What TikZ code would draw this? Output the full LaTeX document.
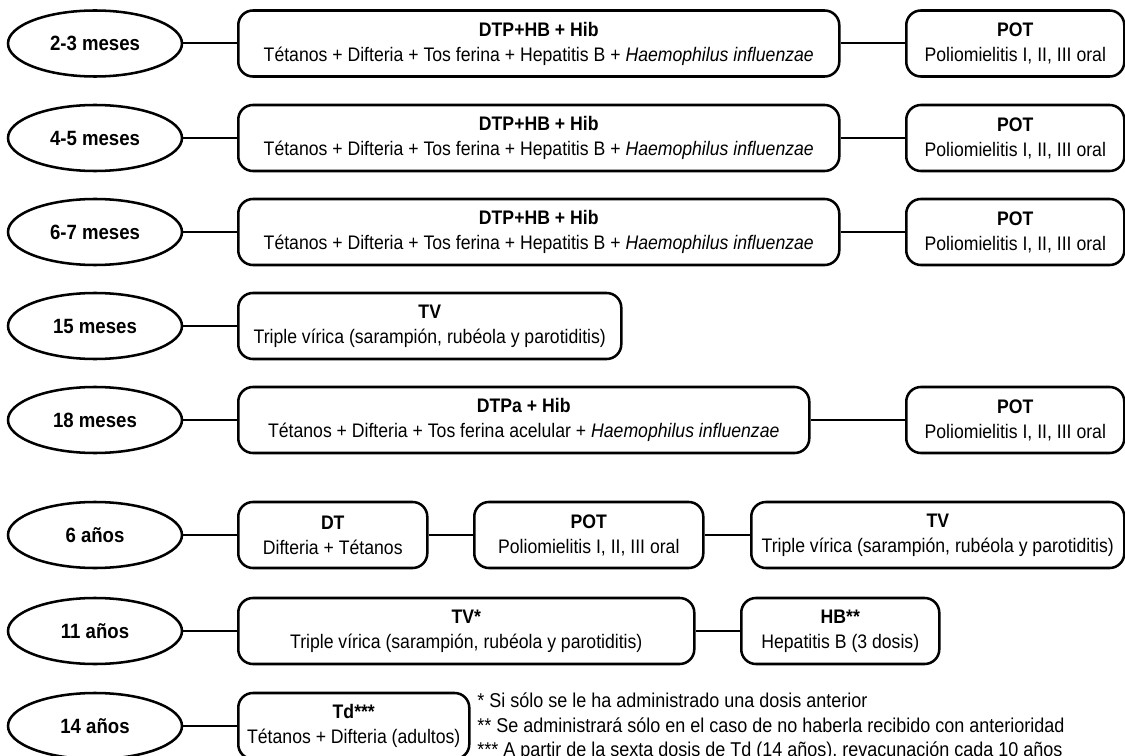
\documentclass[tikz,border=0pt]{standalone}
\usepackage{fontspec}
\setmainfont[FakeStretch=0.9]{Liberation Sans}
\usetikzlibrary{shapes.geometric}

\tikzset{
  age/.style={ellipse, draw, line width=1.9pt, minimum width=130.5pt,
    minimum height=49.5pt, inner sep=0pt,
    font=\fontsize{15.5}{18}\selectfont\bfseries},
  vac/.style={rectangle, rounded corners=11pt, draw, line width=1.9pt,
    minimum height=49.5pt, inner sep=2pt, align=center, anchor=west,
    font=\fontsize{14.7}{18.75}\selectfont},
  link/.style={line width=1.5pt},
  note/.style={anchor=west, align=left, inner sep=0pt,
    font=\fontsize{15}{18.4}\selectfont}
}

\begin{document}
\begin{tikzpicture}[x=0.75pt, y=-0.75pt]

  % Page frame
  \useasboundingbox (0,0) rectangle (1125,756);

  % 2-3 meses
  \node[age] (a1) at (95,43.5) {2-3 meses};
  \node[vac, minimum width=450.75pt] (v1a) at (237,43.5)
    {\textbf{DTP+HB + Hib}\\T\'etanos + Difteria + Tos ferina + Hepatitis B + \textit{Haemophilus influenzae}};
  \node[vac, minimum width=163.5pt] (v1b) at (905,43.5)
    {\textbf{POT}\\Poliomielitis I, II, III oral};
  \draw[link] (a1) -- (v1a);
  \draw[link] (v1a) -- (v1b);

  % 4-5 meses
  \node[age] (a2) at (95,138) {4-5 meses};
  \node[vac, minimum width=450.75pt] (v2a) at (237,138)
    {\textbf{DTP+HB + Hib}\\T\'etanos + Difteria + Tos ferina + Hepatitis B + \textit{Haemophilus influenzae}};
  \node[vac, minimum width=163.5pt] (v2b) at (905,138)
    {\textbf{POT}\\Poliomielitis I, II, III oral};
  \draw[link] (a2) -- (v2a);
  \draw[link] (v2a) -- (v2b);

  % 6-7 meses
  \node[age] (a3) at (95,232) {6-7 meses};
  \node[vac, minimum width=450.75pt] (v3a) at (237,232)
    {\textbf{DTP+HB + Hib}\\T\'etanos + Difteria + Tos ferina + Hepatitis B + \textit{Haemophilus influenzae}};
  \node[vac, minimum width=163.5pt] (v3b) at (905,232)
    {\textbf{POT}\\Poliomielitis I, II, III oral};
  \draw[link] (a3) -- (v3a);
  \draw[link] (v3a) -- (v3b);

  % 15 meses
  \node[age] (a4) at (95,326) {15 meses};
  \node[vac, minimum width=287.25pt] (v4a) at (237,326)
    {\textbf{TV}\\Triple v\'irica (sarampi\'on, rub\'eola y parotiditis)};
  \draw[link] (a4) -- (v4a);

  % 18 meses
  \node[age] (a5) at (95,420) {18 meses};
  \node[vac, minimum width=428.25pt] (v5a) at (237,420)
    {\textbf{DTPa + Hib}\\T\'etanos + Difteria + Tos ferina acelular + \textit{Haemophilus influenzae}};
  \node[vac, minimum width=163.5pt] (v5b) at (905,420)
    {\textbf{POT}\\Poliomielitis I, II, III oral};
  \draw[link] (a5) -- (v5a);
  \draw[link] (v5a) -- (v5b);

  % 6 anos
  \node[age] (a6) at (95,535) {6 años};
  \node[vac, minimum width=141.75pt] (v6a) at (237,535)
    {\textbf{DT}\\Difteria + T\'etanos};
  \node[vac, minimum width=171.75pt] (v6b) at (473,535)
    {\textbf{POT}\\Poliomielitis I, II, III oral};
  \node[vac, minimum width=279.75pt] (v6c) at (750,535)
    {\textbf{TV}\\Triple v\'irica (sarampi\'on, rub\'eola y parotiditis)};
  \draw[link] (a6) -- (v6a);
  \draw[link] (v6a) -- (v6b);
  \draw[link] (v6b) -- (v6c);

  % 11 anos
  \node[age] (a7) at (95,631) {11 años};
  \node[vac, minimum width=342pt] (v7a) at (237,631)
    {\textbf{TV*}\\Triple v\'irica (sarampi\'on, rub\'eola y parotiditis)};
  \node[vac, minimum width=148.5pt] (v7b) at (740,631)
    {\textbf{HB**}\\Hepatitis B (3 dosis)};
  \draw[link] (a7) -- (v7a);
  \draw[link] (v7a) -- (v7b);

  % 14 anos
  \node[age] (a8) at (95,726) {14 años};
  \node[vac, minimum width=173.25pt] (v8a) at (237,726)
    {\textbf{Td***}\\T\'etanos + Difteria (adultos)};
  \draw[link] (a8) -- (v8a);

  % Footnotes
  \node[note] (notes) at (477,727)
    {* Si sólo se le ha administrado una dosis anterior\\
     ** Se administrará sólo en el caso de no haberla recibido con anterioridad\\
     *** A partir de la sexta dosis de Td (14 años), revacunación cada 10 años};

\end{tikzpicture}
\end{document}
